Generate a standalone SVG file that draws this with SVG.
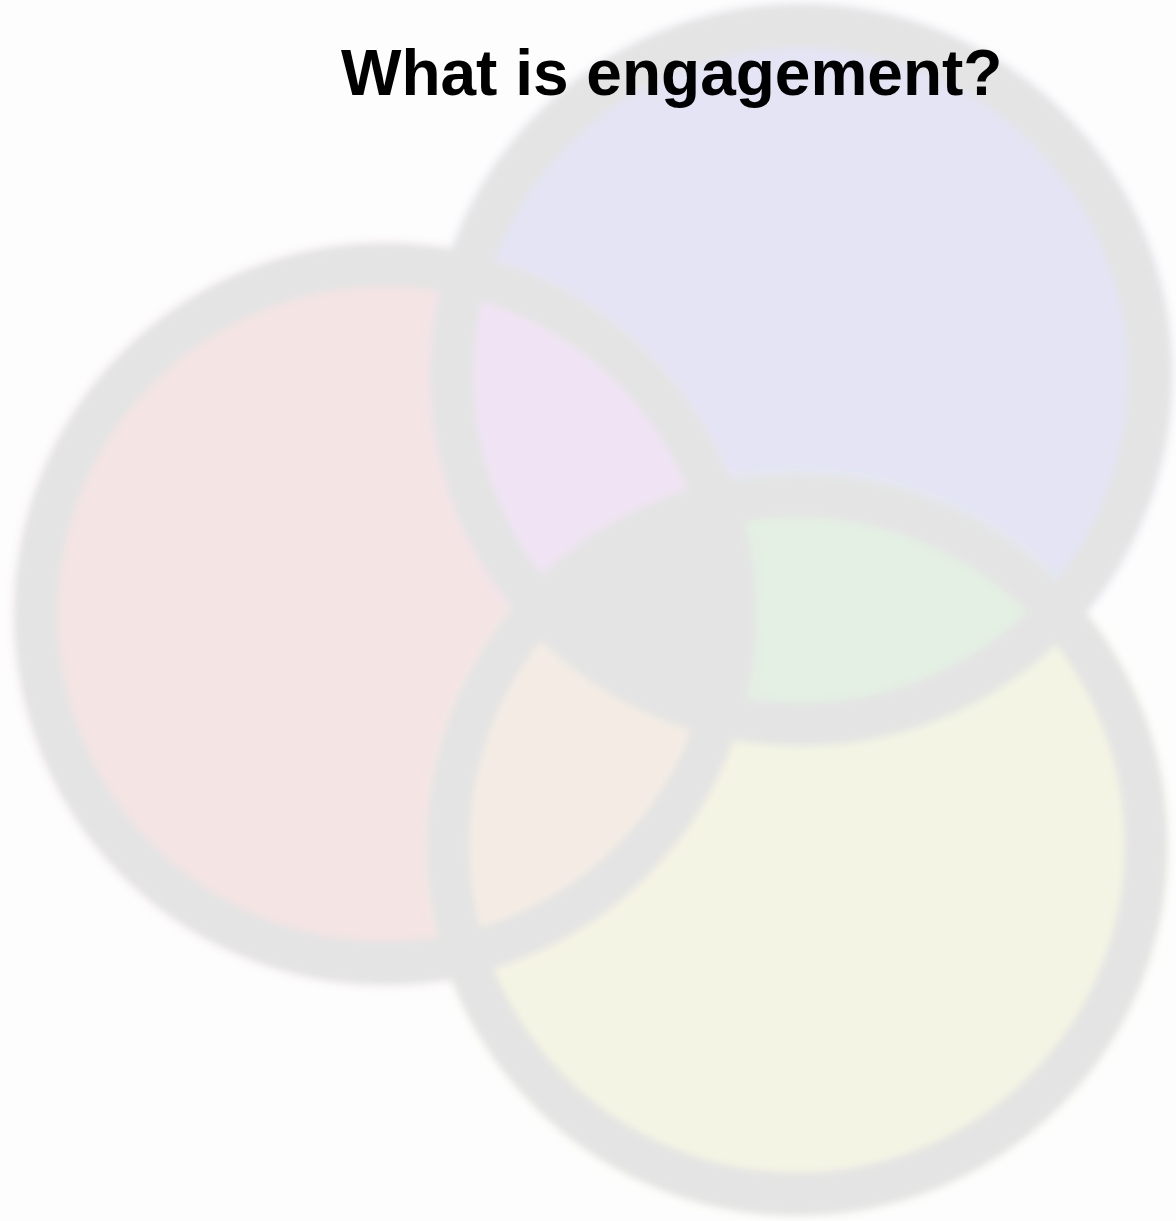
<svg xmlns="http://www.w3.org/2000/svg" width="1176" height="1221" viewBox="0 0 1176 1221">
  <style>
    .ring { fill: none; stroke: #e4e4e4; stroke-width: 43; }
    .title { font-family: "Liberation Sans", Arial, sans-serif; font-weight: bold; font-size: 64px; fill: #000000; }
  </style>
  <defs>
    <circle id="cRed" cx="385" cy="614" r="370"/>
    <circle id="cBlue" cx="801" cy="375" r="370"/>
    <circle id="cYellow" cx="797" cy="845" r="370"/>
    <clipPath id="inBlue"><use href="#cBlue"/></clipPath>
    <clipPath id="inYellow"><use href="#cYellow"/></clipPath>
    <filter id="soft" filterUnits="userSpaceOnUse" x="-60" y="-60" width="1296" height="1341">
      <feGaussianBlur stdDeviation="3.5"/>
    </filter>
    <filter id="softer" filterUnits="userSpaceOnUse" x="-60" y="-60" width="1296" height="1341">
      <feGaussianBlur stdDeviation="5"/>
    </filter>
  </defs>

  <rect width="1176" height="1221" fill="#fdfdfd"/>

  <!-- Three-set diagram -->
  <g id="venn" filter="url(#soft)">
    <g id="fills" filter="url(#softer)">
      <use id="set-red" href="#cRed" fill="#f4e4e4"/>
      <use id="set-blue" href="#cBlue" fill="#e4e4f4"/>
      <use id="set-yellow" href="#cYellow" fill="#f4f4e4"/>
      <!-- pairwise overlaps -->
      <use id="red-blue" href="#cRed" fill="#f0e4f4" clip-path="url(#inBlue)"/>
      <use id="red-yellow" href="#cRed" fill="#f4ece4" clip-path="url(#inYellow)"/>
      <use id="blue-yellow" href="#cBlue" fill="#e4f0e4" clip-path="url(#inYellow)"/>
      <!-- triple overlap -->
      <g id="core" clip-path="url(#inYellow)">
        <use href="#cRed" fill="#e4e4e4" clip-path="url(#inBlue)"/>
      </g>
    </g>
    <g id="rings">
      <circle id="ring-red" class="ring" cx="385" cy="614" r="349"/>
      <circle id="ring-blue" class="ring" cx="801" cy="375" r="349"/>
      <circle id="ring-yellow" class="ring" cx="797" cy="845" r="349"/>
    </g>
  </g>

  <g id="heading">
    <text class="title" x="341" y="95">What is engagement?</text>
  </g>
</svg>
